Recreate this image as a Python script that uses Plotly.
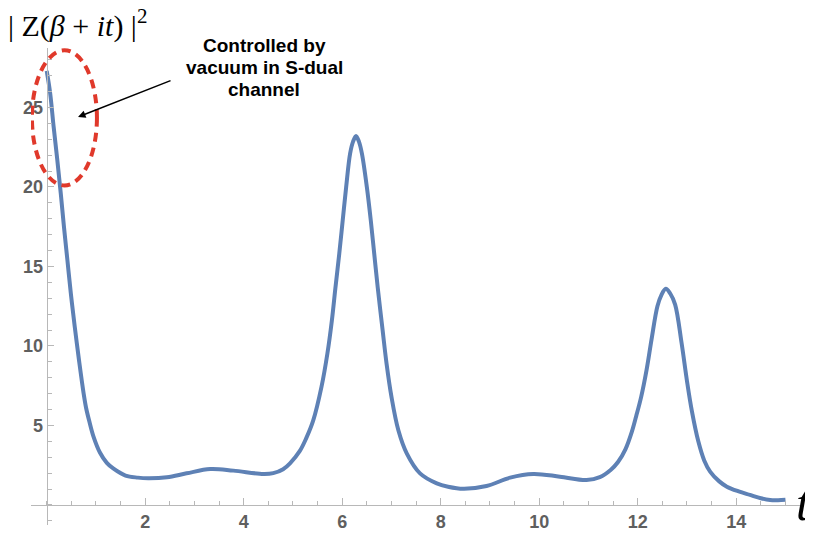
import plotly.graph_objects as go

# data
t_vals = [0.00, 0.07, 0.14, 0.215, 0.285, 0.35, 0.42, 0.49, 0.57, 0.66, 0.75, 0.80,
          0.87, 0.95, 1.08, 1.22, 1.35, 1.60, 1.85, 2.06, 2.44, 2.84, 3.32, 3.79,
          4.40, 4.60, 4.80, 4.94, 5.14, 5.27, 5.41, 5.58, 5.70, 5.79, 5.86, 5.94,
          6.01, 6.08, 6.16, 6.22, 6.28, 6.34, 6.40, 6.50, 6.58, 6.65, 6.72, 6.82,
          6.90, 7.00, 7.14, 7.31, 7.58, 7.92, 8.15, 8.46, 8.93, 9.41, 9.88, 10.42,
          10.96, 11.23, 11.45, 11.60, 11.75, 11.88, 11.97, 12.07, 12.18, 12.28,
          12.40, 12.48, 12.57, 12.66, 12.76, 12.89, 13.00, 13.10, 13.23, 13.35,
          13.47, 13.65, 13.81, 14.05, 14.28, 14.50, 14.69, 14.85, 15.00]
z_vals = [27.3, 25.9, 23.8, 21.7, 19.6, 17.5, 15.4, 13.3, 11.2, 9.0, 7.0, 6.1,
          5.2, 4.3, 3.3, 2.65, 2.3, 1.85, 1.72, 1.68, 1.74, 1.99, 2.26, 2.16,
          1.95, 2.0, 2.25, 2.62, 3.4, 4.2, 5.3, 7.44, 9.54, 11.6, 13.6, 15.8,
          17.9, 20.0, 22.1, 22.85, 23.2, 22.85, 22.1, 20.0, 17.9, 15.8, 13.7, 11.0,
          8.9, 6.8, 4.7, 3.25, 1.99, 1.36, 1.15, 1.02, 1.19, 1.72, 1.95, 1.78,
          1.57, 1.75, 2.2, 2.7, 3.5, 4.6, 5.6, 6.8, 8.5, 10.4,
          12.5, 13.2, 13.6, 13.3, 12.6, 10.2, 7.8, 5.9, 4.0, 2.8,
          2.1, 1.5, 1.15, 0.85, 0.63, 0.42, 0.31, 0.30, 0.33]

x_ticks = [2, 4, 6, 8, 10, 12, 14]
y_ticks = [5, 10, 15, 20, 25]

note_lines = ["Controlled by", "vacuum in S-dual", "channel"]

x_range = [-0.319, 15.295]
y_range = [-1.26, 28.74]

OFF = 8  # page body margin
W, H = 813 - OFF, 533 - OFF
ML, MR, MT, MB = 31 - OFF, 13, 48 - OFF, 8
PW, PH = W - ML - MR, H - MT - MB


def px_x(p):
    return (p - OFF - ML) / PW


def px_y(p):
    return (H - MB - (p - OFF)) / PH


axis_col = "#b8b8b8"
tick_font = dict(family="Liberation Sans", size=18, color="#5f5f5f", weight="bold")

fig = go.Figure()
fig.add_trace(go.Scatter(x=t_vals, y=z_vals, mode="lines",
                         line=dict(color="#5e81b5", width=4, shape="spline", smoothing=1.0),
                         hoverinfo="skip", showlegend=False))

x_pos = (0 - y_range[0]) / (y_range[1] - y_range[0])
y_pos = (0 - x_range[0]) / (x_range[1] - x_range[0])

fig.update_layout(
    width=W, height=H,
    margin=dict(l=ML, r=MR, t=MT, b=MB, autoexpand=False),
    plot_bgcolor="white", paper_bgcolor="white",
    xaxis=dict(range=x_range, anchor="free", position=x_pos, automargin=False,
               showgrid=False, zeroline=False, showline=True, linecolor=axis_col, linewidth=1,
               tickmode="array", tickvals=x_ticks, ticks="inside", ticklen=7,
               tickcolor=axis_col, tickwidth=1, tickfont=tick_font,
               minor=dict(dtick=0.5, tick0=0, ticks="inside", ticklen=4, tickcolor=axis_col, showgrid=False)),
    yaxis=dict(range=y_range, anchor="free", position=y_pos, automargin=False,
               showgrid=False, zeroline=False, showline=True, linecolor=axis_col, linewidth=1,
               tickmode="array", tickvals=y_ticks, ticks="inside", ticklen=6,
               tickcolor=axis_col, tickwidth=1, tickfont=tick_font,
               minor=dict(dtick=1, tick0=0, ticks="inside", ticklen=4, tickcolor=axis_col, showgrid=False)),
)

# red dashed ellipse
fig.add_shape(type="circle", xref="x", yref="y", x0=-0.30, x1=1.02, y0=20.1, y1=28.6,
              line=dict(color="#e0392b", width=4, dash="9px,6px"))

# arrow
fig.add_annotation(x=0.636, y=24.4, xref="x", yref="y", text="", showarrow=True,
                   ax=94, ay=-37, arrowhead=2, arrowsize=1, arrowwidth=1.5, arrowcolor="black")

# annotation text, one line at a time
for i, line in enumerate(note_lines):
    fig.add_annotation(x=px_x(264), y=px_y(45 + 22 * i), xref="paper", yref="paper",
                       xanchor="center", yanchor="middle", text=line, showarrow=False,
                       font=dict(family="Liberation Sans", size=19, color="black", weight="bold"))

# title
fig.add_annotation(x=px_x(6), y=px_y(23), xref="paper", yref="paper", xanchor="left", yanchor="middle",
                   text="| Z(<i>β</i> + <i>it</i>) |<sup>2</sup>", showarrow=False,
                   font=dict(family="Liberation Serif", size=30, color="black"))

# axis label t
fig.add_annotation(x=px_x(794), y=px_y(503), xref="paper", yref="paper", xanchor="left", yanchor="middle",
                   text="<i>t</i>", showarrow=False,
                   font=dict(family="Liberation Serif", size=50, color="black"))

fig.write_html("out.html")
